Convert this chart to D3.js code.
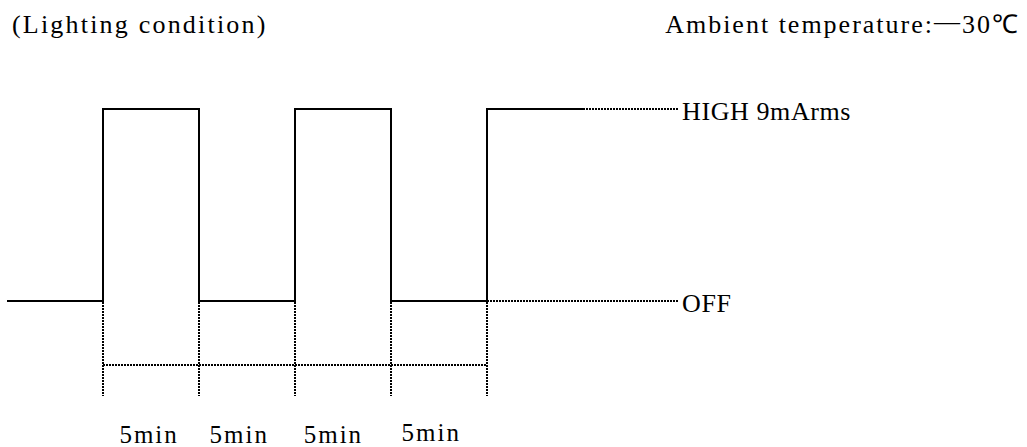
<!DOCTYPE html>
<html>
<head>
<meta charset="utf-8">
<script src="https://cdn.jsdelivr.net/npm/d3@7"></script>
<style>
  body { margin: 0; background: #fff; }
  text { font-family: "Liberation Serif", "Times New Roman", serif; fill: #000; }
</style>
</head>
<body>
<svg id="chart" width="1027" height="447"></svg>
<script>
'use strict';

// time in minutes, level 0 = OFF, 1 = HIGH
const stepTimes = [-5, 0, 5, 10, 15, 20, 25];
const stepLevels = [0, 1, 0, 1, 0, 1];
const extensionEnd = 30;
const levelLabels = ['OFF', 'HIGH 9mArms'];
const dimTimes = [0, 5, 10, 15, 20];
const periodLabels = ['5min', '5min', '5min', '5min'];
const periodCenters = [2.4, 7.1, 12.0, 17.1];
const titleLeft = '(Lighting condition)';
const titleRight = ['Ambient temperature:', '\u2014', '30\u2103'];

const svg = d3.select('#chart');

const x = d3.scaleLinear().domain([-5, 20]).range([7, 487]);
const y = d3.scaleLinear().domain([0, 1]).range([301, 109]);
const dimY = 365;
const dimBottom = 396;

// waveform as step line
const pts = [];
stepLevels.forEach((lv, i) => {
    pts.push([stepTimes[i], lv]);
    pts.push([stepTimes[i + 1], lv]);
});
const line = d3.line().x(d => x(d[0])).y(d => y(d[1]));

svg.append('path')
    .attr('d', line(pts))
    .attr('fill', 'none')
    .attr('stroke', '#000')
    .attr('stroke-width', 2);

const dotted = (x1, y1, x2, y2) => {
    svg.append('line')
        .attr('x1', x1).attr('y1', y1)
        .attr('x2', x2).attr('y2', y2)
        .attr('stroke', '#000')
        .attr('stroke-width', 2)
        .attr('stroke-dasharray', '2,1');
};

// level extensions
const lastT = stepTimes[stepTimes.length - 1];
dotted(x(lastT), y(1), x(extensionEnd), y(1));
dotted(x(dimTimes[dimTimes.length - 1]), y(0), x(extensionEnd), y(0));

// dimension lines
dimTimes.forEach(t => dotted(x(t), y(0) + 1, x(t), dimBottom));
dotted(x(dimTimes[0]), dimY, x(dimTimes[dimTimes.length - 1]), dimY);

// level labels
levelLabels.forEach((lbl, i) => {
    svg.append('text')
        .attr('x', x(extensionEnd) + 3)
        .attr('y', y(i) + 11)
        .attr('font-size', 26)
        .attr('letter-spacing', 0.6)
        .text(lbl);
});

// period labels
periodLabels.forEach((lbl, i) => {
    svg.append('text')
        .attr('x', x(periodCenters[i]))
        .attr('y', i === 3 ? 441 : 443)
        .attr('text-anchor', 'middle')
        .attr('font-size', 25)
        .attr('letter-spacing', 2)
        .text(lbl);
});

svg.append('text')
    .attr('x', 12).attr('y', 33)
    .attr('font-size', 26)
    .attr('letter-spacing', 2.2)
    .text(titleLeft);

const right = svg.append('text')
    .attr('x', 1020).attr('y', 33)
    .attr('text-anchor', 'end')
    .attr('font-size', 26)
    .attr('letter-spacing', 2);
right.append('tspan').text(titleRight[0]);
right.append('tspan').attr('dy', -3).attr('letter-spacing', 0).text(titleRight[1]);
right.append('tspan').attr('dy', 3).attr('dx', 2).text(titleRight[2]);
</script>
</body>
</html>
